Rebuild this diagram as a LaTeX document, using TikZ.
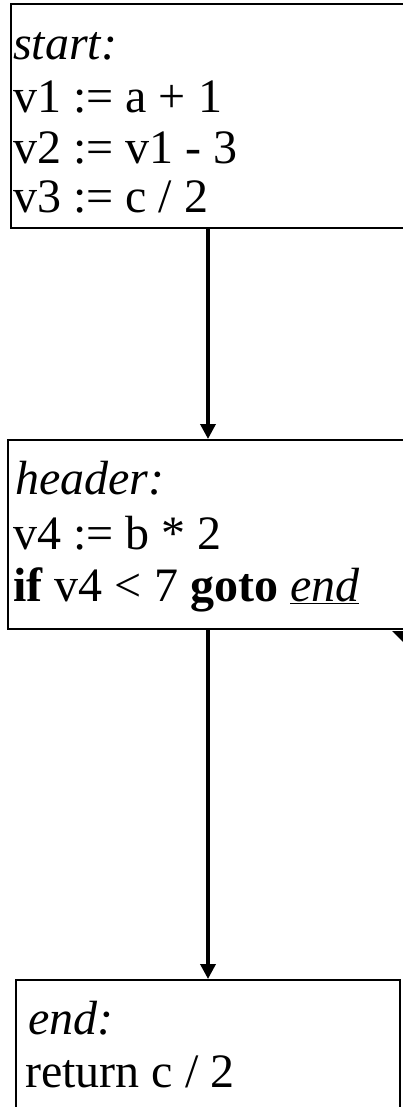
\documentclass[tikz,border=0pt]{standalone}
\usepackage{fontspec}
\setmainfont{Liberation Serif}
\usetikzlibrary{arrows.meta}
\begin{document}
\begin{tikzpicture}[x=1pt,y=-1pt,
  box/.style={draw=black, line width=2pt, inner sep=0pt, anchor=north west},
  txt/.style={anchor=base west, inner sep=0pt, font=\fontsize{48}{52}\selectfont},
  flow/.style={line width=3.5pt, -{Triangle[width=15pt,length=15pt]}}]
\useasboundingbox (0,0) rectangle (403,1107);
\clip (0,0) rectangle (403,1107);
% boxes
\node[box, minimum width=410pt, minimum height=224pt] (start) at (10,3) {};
\node[box, minimum width=413pt, minimum height=189pt] (header) at (7,439) {};
\node[box, minimum width=384pt, minimum height=146pt] (end) at (15,979) {};
% texts
\node[txt] (s0) at (13,60) {\textit{start:}};
\node[txt] (s1) at (13,113) {v1 := a + 1};
\node[txt] (s2) at (13,164) {v2 := v1 - 3};
\node[txt] (s3) at (13,213) {v3 := c / 2};
\node[txt] (h0) at (15,494) {\textit{header:}};
\node[txt] (h1) at (13,549) {v4 := b * 2};
\node[txt] (h2) at (13,601) {\textbf{if} v4 < 7 \textbf{goto} \underline{\textit{end}}};
\node[txt] (e0) at (28,1034) {\textit{end:}};
\node[txt] (e1) at (25,1087) {return c / 2};
% connectors
\coordinate (ax) at (208,0);
\draw[flow] (ax |- start.south) -- (ax |- header.north);
\draw[flow] (ax |- header.south) -- (ax |- end.north);
% partial arrowhead at right edge
\fill (392,631) -- (416,631) -- (416,655) -- cycle;
\end{tikzpicture}
\end{document}
